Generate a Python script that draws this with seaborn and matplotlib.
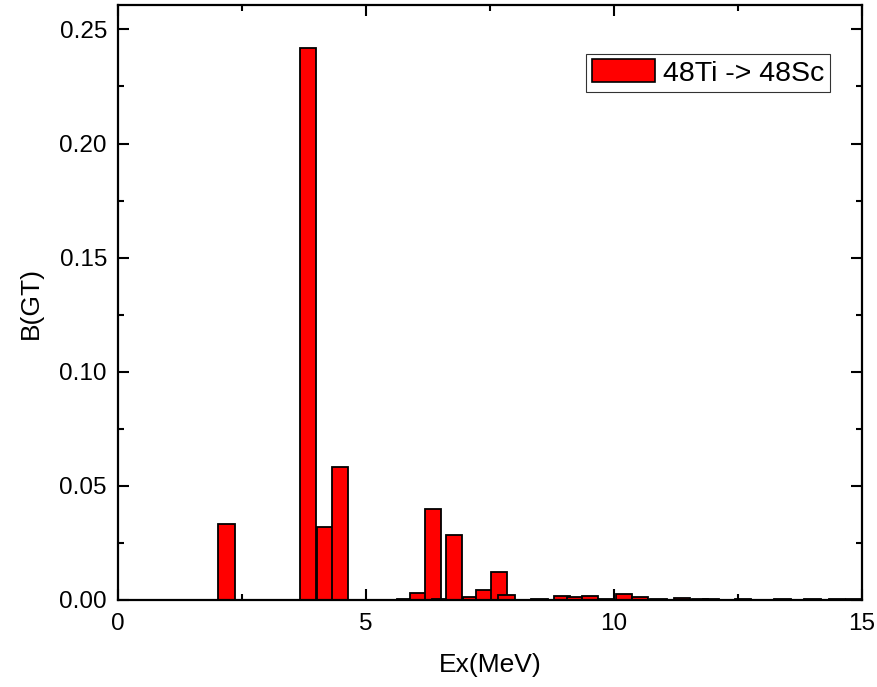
import matplotlib
matplotlib.use("Agg")
import matplotlib.pyplot as plt
from matplotlib.ticker import MultipleLocator
from matplotlib.patches import Patch
import numpy as np
import pandas as pd
import seaborn as sns

# Data
ex_mev = [2.19, 3.83, 4.17, 4.47, 4.85, 5.78, 6.05, 6.35, 6.50, 6.78,
          7.13, 7.38, 7.68, 7.83, 8.50, 8.95, 9.21, 9.51, 9.84, 10.20,
          10.52, 10.90, 11.37, 11.73, 11.95, 12.60, 13.40, 14.00, 14.50, 14.85]
bgt = [0.0333, 0.2417, 0.0320, 0.0583, 0.0002, 0.0005, 0.0032, 0.0398, 0.0003, 0.0286,
       0.0015, 0.0042, 0.0122, 0.0021, 0.0004, 0.0016, 0.0013, 0.0018, 0.0005, 0.0026,
       0.0015, 0.0004, 0.0008, 0.0006, 0.0004, 0.0004, 0.0003, 0.0003, 0.0003, 0.0003]
series_label = "48Ti -> 48Sc"
x_ticks = [0, 5, 10, 15]
y_ticks = [0.00, 0.05, 0.10, 0.15, 0.20, 0.25]

sns.set_style("ticks")
plt.rcParams["font.family"] = ["Liberation Sans", "DejaVu Sans"]
plt.rcParams.update({"text.color": "black", "axes.labelcolor": "black",
                     "xtick.color": "black", "ytick.color": "black",
                     "axes.edgecolor": "black"})

df = pd.DataFrame({"Ex": ex_mev, "BGT": bgt, "series": series_label})

fig = plt.figure(figsize=(8.78, 6.87), dpi=100)
ax = fig.add_axes([118 / 878, 1 - 600 / 687, (862 - 118) / 878, (600 - 5) / 687])

bar_width = 0.33
native_w = np.min(np.diff(np.sort(np.unique(ex_mev))))
sns.barplot(data=df, x="Ex", y="BGT", hue="series", palette=["#ff0000"],
            native_scale=True, width=bar_width / native_w, errorbar=None,
            edgecolor="black", linewidth=1.3, saturation=1, ax=ax, legend=False)

ax.set_xlim(0, 15)
ax.set_ylim(0, 0.2607)
ax.set_xticks(x_ticks)
ax.set_xticklabels([str(t) for t in x_ticks])
ax.set_yticks(y_ticks)
ax.set_yticklabels([f"{t:.2f}" for t in y_ticks])
ax.xaxis.set_minor_locator(MultipleLocator(2.5))
ax.yaxis.set_minor_locator(MultipleLocator(0.025))
ax.tick_params(which="both", direction="in", top=True, right=True, width=1.5,
               color="black", labelcolor="black")
ax.tick_params(which="major", length=8, labelsize=17.5)
ax.tick_params(axis="x", which="major", pad=9)
ax.tick_params(axis="y", which="major", pad=8)
ax.tick_params(which="minor", length=4.5)
for s in ax.spines.values():
    s.set_linewidth(1.6)
    s.set_color("black")
    s.set_visible(True)

ax.set_xlabel("Ex(MeV)", fontsize=19, labelpad=13, color="black")
ax.set_ylabel("B(GT)", fontsize=19, labelpad=12, color="black")

handle = Patch(facecolor="#ff0000", edgecolor="black", linewidth=1.2, label=series_label)
leg = ax.legend(handles=[handle], loc="upper right", bbox_to_anchor=(0.957, 0.918),
                fontsize=20.5, frameon=True, fancybox=False, edgecolor="black",
                handlelength=2.2, handleheight=0.85, handletextpad=0.3,
                borderpad=0.2, borderaxespad=0, labelcolor="black")
leg.get_frame().set_linewidth(0.8)

fig.savefig("out.png", dpi=100)
